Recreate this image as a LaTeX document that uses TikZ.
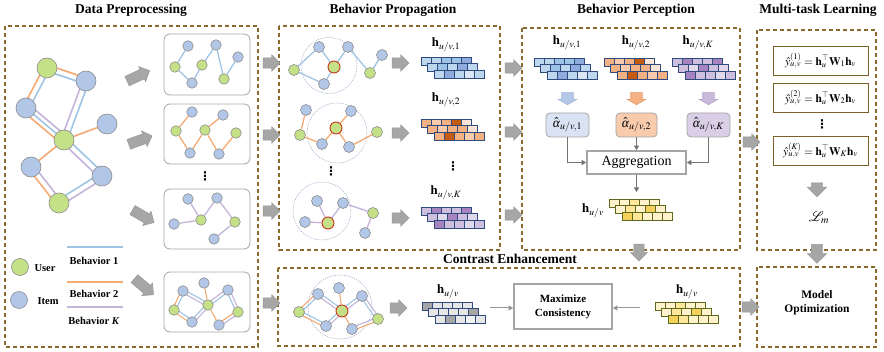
\documentclass[tikz,border=0pt]{standalone}
\usepackage{amsmath,amssymb}
\usepackage{mathptmx}
\usepackage{fontspec}
\setmainfont{Liberation Serif}
\newfontfamily\symfont{DejaVu Sans}
\usetikzlibrary{calc,shapes.arrows,arrows.meta,backgrounds}

% palette
\definecolor{dashbrown}{RGB}{139,105,45}
\definecolor{agray}{RGB}{166,166,166}
\definecolor{agrayd}{RGB}{150,150,150}
\definecolor{eblue}{RGB}{160,196,228}
\definecolor{eorange}{RGB}{245,170,115}
\definecolor{epurple}{RGB}{196,180,218}
\definecolor{ugreen}{RGB}{196,225,135}
\definecolor{iblue}{RGB}{178,198,232}
\definecolor{nborder}{RGB}{140,140,140}
\definecolor{cred}{RGB}{200,55,25}
\definecolor{ring}{RGB}{165,175,205}
\definecolor{boxgray}{RGB}{165,165,165}
\definecolor{navy}{RGB}{47,75,125}
\definecolor{olive}{RGB}{95,105,30}
\definecolor{fbrown}{RGB}{125,95,40}
\definecolor{flowgray}{RGB}{115,115,115}
% embedding cells
\definecolor{sb1}{HTML}{BDD7EE}\definecolor{sb2}{HTML}{9DC3E6}
\definecolor{sb3}{HTML}{8FAADC}\definecolor{sb4}{HTML}{DAE6F4}
\definecolor{so1}{HTML}{F4B183}\definecolor{so2}{HTML}{F8CBAD}
\definecolor{so3}{HTML}{C55A11}\definecolor{so4}{HTML}{FBE5D6}
\definecolor{sp1}{HTML}{CDBFDD}\definecolor{sp2}{HTML}{A584BF}
\definecolor{sp3}{HTML}{E2D8EC}
\definecolor{sy1}{HTML}{FFF2CC}\definecolor{sy2}{HTML}{FFE699}
\definecolor{sy3}{HTML}{F5D05A}
\definecolor{sg1}{HTML}{E7E6E6}\definecolor{sg2}{HTML}{A6A6A6}
\definecolor{sg3}{HTML}{F2F2F2}
% weight boxes and arrows
\definecolor{al1}{HTML}{DAE3F3}\definecolor{al2}{HTML}{F8CBAD}
\definecolor{al3}{HTML}{D9CFE6}
\definecolor{arBf}{HTML}{B4C7E7}\definecolor{arBd}{HTML}{9DB3DB}
\definecolor{arOf}{HTML}{F4B183}\definecolor{arOd}{HTML}{E59A66}
\definecolor{arPf}{HTML}{CBB9DC}\definecolor{arPd}{HTML}{B3A1C9}

% italic alpha taken from the text font
\newcommand\alphit{\text{\itshape α}}

% edge shifted to the left / right of the direction A -> B
\newcommand\sideA[4]{\draw[#1] ($(#2)!#4!90:(#3)$) -- ($(#3)!#4!-90:(#2)$);}
\newcommand\sideB[4]{\draw[#1] ($(#2)!#4!-90:(#3)$) -- ($(#3)!#4!90:(#2)$);}

% three staggered rows of five cells
\newcommand\embstack[4]{%
  \foreach \cells [count=\r from 0] in {#4} {
    \foreach \c [count=\i from 0] in \cells {
      \draw[fill=\c, draw=#3, line width=0.6pt]
        (#1+\r*6.5+\i*10, #2+\r*6.5) rectangle ++(10,8);
    }
  }%
}

\tikzset{
  frame/.style={draw=dashbrown, line width=1.1pt, dash pattern=on 4pt off 3pt},
  title/.style={font=\bfseries\fontsize{13.5}{15}\selectfont},
  usr/.style={circle, draw=nborder, fill=ugreen, line width=0.6pt, inner sep=0pt, minimum size=#1},
  usr/.default=11pt,
  itm/.style={circle, draw=nborder, fill=iblue, line width=0.6pt, inner sep=0pt, minimum size=#1},
  itm/.default=11pt,
  ctr/.style={circle, draw=cred, fill=ugreen, line width=0.9pt, inner sep=0pt, minimum size=12pt},
  eb/.style={draw=eblue, line width=#1}, eb/.default=1.3pt,
  eo/.style={draw=eorange, line width=#1}, eo/.default=1.3pt,
  ep/.style={draw=epurple, line width=#1}, ep/.default=1.3pt,
  ringc/.style={draw=ring, line width=0.5pt, dash pattern=on 1.5pt off 1pt},
  subbox/.style={draw=boxgray, line width=0.8pt, rounded corners=6pt},
  % block arrows: shaft width = text height + text depth
  garrow/.style={single arrow, fill=agray, draw=agrayd, line width=0.4pt, inner sep=0pt,
    text height=5pt, text depth=5pt, minimum height=#1,
    single arrow head extend=3.2pt},
  garrow/.default=17pt,
  wide/.style={text height=5.5pt, text depth=5.5pt, single arrow head extend=4pt},
  carrow/.style={single arrow, inner sep=0pt, line width=0.6pt, rotate=-90,
    text height=5.5pt, text depth=5.5pt, minimum height=12pt,
    single arrow head extend=3.5pt, single arrow tip angle=120},
  legtext/.style={font=\bfseries\fontsize{10.5}{12}\selectfont},
  hl/.style={font=\fontsize{13}{15}\selectfont},
  albox/.style={draw=boxgray, line width=0.8pt, rounded corners=4pt, minimum width=43pt,
    minimum height=24pt, font=\fontsize{13.5}{15}\selectfont},
  thickbox/.style={draw=boxgray, line width=1.6pt, fill=white},
  fbox/.style={draw=fbrown, line width=0.9pt, minimum width=95pt, minimum height=29pt,
    font=\fontsize{11.5}{13}\selectfont},
  flow/.style={draw=flowgray, line width=1.2pt, -{Triangle[length=4.5pt,width=5pt]}},
  flowl/.style={draw=agrayd, line width=1pt, -{Triangle[length=4.5pt,width=5pt]}},
  dotsn/.style={font=\symfont\bfseries\fontsize{12}{12}\selectfont},
}

\begin{document}
\begin{tikzpicture}[x=1pt, y=-1pt]
\useasboundingbox (0,0) rectangle (884,352);
\begin{pgfonlayer}{background}
  \fill[white] (0,0) rectangle (884,352);
\end{pgfonlayer}

% ---------------- titles
\node[title] (tDP) at (131,10) {Data Preprocessing};
\node[title] (tBP) at (393,10) {Behavior Propagation};
\node[title] (tBC) at (636,10) {Behavior Perception};
\node[title] (tML) at (818,10) {Multi-task Learning};
\node[title] (tCE) at (510,259) {Contrast Enhancement};

% ---------------- dashed stage frames
\draw[frame] (5,26) rectangle (258,347);
\draw[frame] (279,26) rectangle (500,250);
\draw[frame] (522,28) rectangle (740,250);
\draw[frame] (757,30) rectangle (876,250);
\draw[frame] (757,267) rectangle (876,347);
\draw[frame] (278,268) rectangle (740,346);

% ---------------- full multi-behaviour graph
\node[usr=20pt] (U1) at (47,68) {};
\node[itm=20pt] (I1) at (86,81) {};
\node[itm=20pt] (I2) at (26,108) {};
\node[itm=20pt] (I3) at (107,124) {};
\node[usr=20pt] (U2) at (64,140) {};
\node[itm=20pt] (I4) at (31,167) {};
\node[itm=20pt] (I5) at (102,176) {};
\node[usr=20pt] (U3) at (59,203) {};
\begin{pgfonlayer}{background}
  \sideA{eo=1.6pt}{U1}{I1}{3pt}   \sideB{eb=1.6pt}{U1}{I1}{3pt}
  \sideA{eb=1.6pt}{U1}{I2}{3pt}   \sideB{eo=1.6pt}{U1}{I2}{3pt}
  \sideA{eb=1.6pt}{I1}{U2}{3pt}   \sideB{ep=1.6pt}{I1}{U2}{3pt}
  \sideA{ep=1.6pt}{I2}{U2}{4.5pt} \draw[eb=1.6pt] (I2) -- (U2); \sideB{eo=1.6pt}{I2}{U2}{4.5pt}
  \draw[eo=1.6pt] (U2) -- (I3);
  \draw[eo=1.6pt] (U2) -- (I4);
  \sideA{eb=1.6pt}{U2}{I5}{3pt}   \sideB{ep=1.6pt}{U2}{I5}{3pt}
  \sideA{ep=1.6pt}{I4}{U3}{3pt}   \sideB{eo=1.6pt}{I4}{U3}{3pt}
  \sideA{eb=1.6pt}{U3}{I5}{3pt}   \sideB{ep=1.6pt}{U3}{I5}{3pt}
\end{pgfonlayer}

% ---------------- legend
\node[usr=17pt] (lu) at (20,267) {};
\node[itm=17pt] (li) at (19,300) {};
\node[legtext, anchor=west] (lut) at (31,268) {User};
\node[legtext, anchor=west] (lit) at (34,301) {Item};
\draw[eb=2pt] (67,247) -- (123,247);
\draw[eo=2pt] (67,282) -- (123,282);
\draw[ep=2pt] (67,307) -- (123,307);
\node[legtext] (lb1) at (94,261) {Behavior 1};
\node[legtext] (lb2) at (94,294) {Behavior 2};
\node[legtext] (lbk) at (94,321) {Behavior \textit{K}};

% ---------------- split arrows
\node[garrow=25pt, rotate=25] (da1) at (136,77) {};
\node[garrow=25pt, rotate=20] (da2) at (138,141) {};
\node[garrow=25pt, rotate=-30] (da3) at (141,215) {};
\node[garrow=25pt, rotate=-40] (da4) at (142,285) {};

% ---------------- per-behaviour subgraphs
\draw[subbox] (164,34) rectangle (250,95);
\draw[subbox] (164,104) rectangle (250,164);
\draw[subbox] (164,189) rectangle (250,249);
\draw[subbox] (164,272) rectangle (250,332);
\node[dotsn] (sdots) at (205,176) {⋮};

% behaviour 1
\node[itm=10.5pt] (a1) at (188,46) {};
\node[itm=10.5pt] (a2) at (216,45) {};
\node[itm=10.5pt] (a3) at (238,57) {};
\node[usr=10.5pt] (a4) at (175,67) {};
\node[usr=10.5pt] (a5) at (202,65) {};
\node[itm=10.5pt] (a6) at (192,83) {};
\node[usr=10.5pt] (a7) at (224,79) {};
% behaviour 2
\node[usr=10.5pt] (b1) at (176,131) {};
\node[itm=10.5pt] (b2) at (192,112) {};
\node[itm=10.5pt] (b3) at (190,153) {};
\node[usr=10.5pt] (b4) at (205,130) {};
\node[itm=10.5pt] (b5) at (223,115) {};
\node[itm=10.5pt] (b6) at (219,154) {};
\node[usr=10.5pt] (b7) at (236,133) {};
% behaviour K
\node[itm=10.5pt] (c1) at (188,199) {};
\node[itm=10.5pt] (c2) at (217,198) {};
\node[itm=10.5pt] (c3) at (174,224) {};
\node[usr=10.5pt] (c4) at (201,220) {};
\node[usr=10.5pt] (c5) at (235,222) {};
\node[itm=10.5pt] (c6) at (214,239) {};
% merged
\node[itm=10.5pt] (d1) at (183,291) {};
\node[itm=10.5pt] (d2) at (204,283) {};
\node[itm=10.5pt] (d3) at (228,290) {};
\node[usr=10.5pt] (d4) at (174,310) {};
\node[usr=10.5pt] (d5) at (208,305) {};
\node[usr=10.5pt] (d6) at (238,312) {};
\node[itm=10.5pt] (d7) at (192,322) {};
\node[itm=10.5pt] (d8) at (219,325) {};
\begin{pgfonlayer}{background}
  \draw[eb] (a4) -- (a1); \draw[eb] (a4) -- (a6); \draw[eb] (a6) -- (a5);
  \draw[eb] (a5) -- (a2); \draw[eb] (a2) -- (a7); \draw[eb] (a7) -- (a3);
  \draw[eo] (b1) -- (b2); \draw[eo] (b1) -- (b3); \draw[eo] (b3) -- (b4);
  \draw[eo] (b4) -- (b5); \draw[eo] (b4) -- (b6); \draw[eo] (b6) -- (b7);
  \draw[ep] (c3) -- (c4); \draw[ep] (c4) -- (c1); \draw[ep] (c4) -- (c2);
  \draw[ep] (c2) -- (c5); \draw[ep] (c5) -- (c6);
  \sideA{eo=1.1pt}{d4}{d1}{1.6pt} \sideB{eb=1.1pt}{d4}{d1}{1.6pt}
  \sideA{eb=1.1pt}{d4}{d7}{1.6pt} \sideB{eo=1.1pt}{d4}{d7}{1.6pt}
  \sideA{eb=1.1pt}{d1}{d5}{1.6pt} \sideB{ep=1.1pt}{d1}{d5}{1.6pt}
  \draw[eo=1.1pt] (d2) -- (d5);
  \sideA{ep=1.1pt}{d5}{d3}{1.6pt} \sideB{eb=1.1pt}{d5}{d3}{1.6pt}
  \sideA{ep=1.1pt}{d5}{d7}{1.6pt} \sideB{eb=1.1pt}{d5}{d7}{1.6pt}
  \sideA{ep=1.1pt}{d3}{d6}{1.6pt} \sideB{eb=1.1pt}{d3}{d6}{1.6pt}
  \sideA{ep=1.1pt}{d6}{d8}{1.6pt} \sideB{eo=1.1pt}{d6}{d8}{1.6pt}
  \draw[eo=1.1pt] (d5) -- (d8);
\end{pgfonlayer}

% ---------------- arrows into propagation / contrast
\node[garrow] (pa1) at (269,63) {};
\node[garrow] (pa2) at (269,135) {};
\node[garrow] (pa3) at (269,211) {};
\node[garrow] (pa4) at (269,303) {};

% ---------------- behaviour propagation graphs
\node[itm] (p1a) at (319,47) {};
\node[itm] (p1b) at (348,47) {};
\node[itm] (p1c) at (382,55) {};
\node[usr] (p1d) at (294,70) {};
\node[ctr] (p1x) at (334,67) {};
\node[usr] (p1e) at (370,73) {};
\node[itm] (p1f) at (324,84) {};

\node[itm] (p2a) at (306,110) {};
\node[itm] (p2b) at (351,111) {};
\node[usr] (p2d) at (300,135) {};
\node[ctr] (p2x) at (336,128) {};
\node[usr] (p2e) at (377,132) {};
\node[itm] (p2f) at (322,144) {};
\node[itm] (p2g) at (349,147) {};

\node[itm] (p3a) at (317,201) {};
\node[itm] (p3b) at (343,203) {};
\node[itm] (p3c) at (305,222) {};
\node[ctr] (p3x) at (328,223) {};
\node[usr] (p3e) at (373,213) {};
\node[itm] (p3f) at (365,233) {};
\node[dotsn] (pdots) at (331,171) {⋮};

\begin{pgfonlayer}{background}
  \draw[ringc] (329,65.5) circle (28);
  \draw[ringc] (337,133) circle (30);
  \draw[ringc] (322,211) circle (29);
  \draw[eb] (p1d) -- (p1a); \draw[eb] (p1a) -- (p1x); \draw[eb] (p1x) -- (p1b);
  \draw[eb] (p1b) -- (p1e); \draw[eb] (p1e) -- (p1c); \draw[eb] (p1d) -- (p1f);
  \draw[eb] (p1f) -- (p1x);
  \draw[eo] (p2a) -- (p2d); \draw[eo] (p2d) -- (p2f); \draw[eo] (p2f) -- (p2x);
  \draw[eo] (p2x) -- (p2b); \draw[eo] (p2x) -- (p2g); \draw[eo] (p2g) -- (p2e);
  \draw[ep] (p3a) -- (p3x); \draw[ep] (p3b) -- (p3x); \draw[ep] (p3c) -- (p3x);
  \draw[ep] (p3b) -- (p3e); \draw[ep] (p3e) -- (p3f);
\end{pgfonlayer}

\node[garrow] (qa1) at (398,63) {};
\node[garrow] (qa2) at (398,133) {};
\node[garrow] (qa3) at (398,218) {};

% behaviour-specific embeddings
\node[hl] (hp1) at (446,45) {$\mathbf{h}_{u/v,1}$};
\embstack{421}{57}{navy}{{sb1,sb1,sb2,sb2,sb3},{sb1,sb2,sb1,sb3,sb1},{sb1,sb3,sb1,sb4,sb1}}
\node[hl] (hp2) at (446,100) {$\mathbf{h}_{u/v,2}$};
\embstack{421}{119}{navy}{{so1,so2,so1,so3,so4},{so1,so2,so1,so1,so4},{so1,so3,so1,so2,so1}}
\node[dotsn] (hdots) at (453,166) {⋮};
\node[hl] (hp3) at (446,193) {$\mathbf{h}_{u/v,K}$};
\embstack{421}{207}{navy}{{sp1,sp2,sp1,sp1,sp2},{sp1,sp3,sp2,sp1,sp3},{sp2,sp1,sp1,sp3,sp1}}

% ---------------- arrows into perception
\node[garrow] (ra1) at (511,68) {};
\node[garrow] (ra2) at (511,132) {};
\node[garrow] (ra3) at (511,215) {};

% ---------------- behaviour perception
\node[hl] (hc1) at (567,43) {$\mathbf{h}_{u/v,1}$};
\node[hl] (hc2) at (636,43) {$\mathbf{h}_{u/v,2}$};
\node[hl] (hc3) at (698,43) {$\mathbf{h}_{u/v,K}$};
\embstack{534}{58}{navy}{{sb1,sb1,sb2,sb2,sb3},{sb1,sb2,sb1,sb3,sb1},{sb1,sb3,sb1,sb4,sb1}}
\embstack{604}{58}{navy}{{so1,so2,so1,so3,so4},{so1,so2,so1,so1,so4},{so1,so3,so1,so2,so1}}
\embstack{672}{58}{navy}{{sp1,sp2,sp1,sp1,sp2},{sp1,sp3,sp2,sp1,sp3},{sp2,sp1,sp1,sp3,sp1}}

\node[carrow, fill=arBf, draw=arBd] (ca1) at (567.5,97) {};
\node[carrow, fill=arOf, draw=arOd] (ca2) at (636.5,97) {};
\node[carrow, fill=arPf, draw=arPd] (ca3) at (708.5,97) {};

\node[albox, fill=al1] (al1) at (567.5,125) {$\hat{\alphit}_{u/v,1}$};
\node[albox, fill=al2, minimum width=41pt] (al2) at (636.5,125) {$\hat{\alphit}_{u/v,2}$};
\node[albox, fill=al3] (al3) at (708.5,125) {$\hat{\alphit}_{u/v,K}$};

\node[thickbox, minimum width=99pt, minimum height=23pt,
  font=\fontsize{14}{16}\selectfont] (agg) at (636.5,162.5) {Aggregation};
\draw[flow] (al1.south) |- (agg.west);
\draw[flow] (al2.south) -- (agg.north);
\draw[flow] (al3.south) |- (agg.east);
\coordinate (aggout) at (636.5,192);
\draw[flow] (agg.south) -- (aggout);

\node[hl] (hagg) at (593,211) {$\mathbf{h}_{u/v}$};
\embstack{609}{199}{olive}{{sy1,sy1,sy2,sy1,sy1},{sy1,sy2,sy1,sy3,sy1},{sy3,sy2,sy1,sy1,sy1}}

\node[garrow, rotate=-90] (sa1) at (639,250) {};
\node[garrow] (sa2) at (749,142) {};

% ---------------- multi-task learning
\node[fbox] (f1) at (820.5,60.5)
  {$\hat{y}^{(1)}_{u,v}=\mathbf{h}_u^{\top}\mathbf{W}_1\mathbf{h}_v$};
\node[fbox] (f2) at (820.5,97.5)
  {$\hat{y}^{(2)}_{u,v}=\mathbf{h}_u^{\top}\mathbf{W}_2\mathbf{h}_v$};
\node[dotsn] (fdots) at (822,124) {⋮};
\node[fbox] (f3) at (820.5,150.5)
  {$\hat{y}^{(K)}_{u,v}=\mathbf{h}_u^{\top}\mathbf{W}_K\mathbf{h}_v$};
\node[garrow=14pt, wide, rotate=-90] (ma1) at (817,187) {};
\node[font=\fontsize{14}{16}\selectfont] (lm) at (819,218) {$\mathcal{L}_m$};
\node[garrow=19pt, wide, rotate=-90] (ma2) at (817,251) {};

% ---------------- model optimization
\node[font=\bfseries\fontsize{11.5}{14}\selectfont, align=center] (mo) at (817,303)
  {Model\\Optimization};
\node[garrow] (oa1) at (748,307) {};

% ---------------- contrast enhancement
\node[itm] (ga) at (318,294) {};
\node[itm] (gb) at (339,288) {};
\node[itm] (gc) at (362,296) {};
\node[usr] (gd) at (299,312) {};
\node[ctr] (gx) at (342,311) {};
\node[usr] (ge) at (378,319) {};
\node[itm] (gf) at (326,326) {};
\node[itm] (gg) at (352,329) {};
\begin{pgfonlayer}{background}
  \draw[ringc] (340,307) circle (32);
  \sideA{eo=1.1pt}{gd}{ga}{1.6pt} \sideB{eb=1.1pt}{gd}{ga}{1.6pt}
  \sideA{eb=1.1pt}{ga}{gx}{1.6pt} \sideB{ep=1.1pt}{ga}{gx}{1.6pt}
  \draw[eo=1.1pt] (gb) -- (gx);
  \sideA{eb=1.1pt}{gx}{gc}{1.6pt} \sideB{ep=1.1pt}{gx}{gc}{1.6pt}
  \sideA{ep=1.1pt}{gc}{ge}{1.6pt} \sideB{eb=1.1pt}{gc}{ge}{1.6pt}
  \sideA{ep=1.1pt}{gx}{gf}{1.6pt} \sideB{eb=1.1pt}{gx}{gf}{1.6pt}
  \sideA{eb=1.1pt}{gd}{gf}{1.6pt} \sideB{eo=1.1pt}{gd}{gf}{1.6pt}
  \draw[eo=1.1pt] (gx) -- (gg);
  \sideA{ep=1.1pt}{gg}{ge}{1.6pt} \sideB{eo=1.1pt}{gg}{ge}{1.6pt}
\end{pgfonlayer}
\node[garrow] (ea1) at (396,308) {};

\node[hl] (hg) at (448,292) {$\mathbf{h}_{u/v}$};
\embstack{422}{302}{navy}{{sg2,sg1,sg1,sg1,sg1},{sg1,sg1,sg1,sg1,sg2},{sg1,sg2,sg1,sg3,sg1}}
\node[hl] (hy) at (687,292) {$\mathbf{h}_{u/v}$};
\embstack{655}{302}{olive}{{sy1,sy1,sy2,sy1,sy1},{sy1,sy2,sy1,sy3,sy1},{sy3,sy2,sy1,sy1,sy1}}

\node[thickbox, minimum width=98pt, minimum height=45pt, align=center,
  font=\bfseries\fontsize{11}{14}\selectfont] (max) at (563,306.5) {Maximize\\Consistency};
\coordinate (gsrc) at (490,308);
\coordinate (ysrc) at (640,308);
\draw[flowl] (gsrc) -- (max.west |- gsrc);
\draw[flowl] (ysrc) -- (max.east |- ysrc);
\end{tikzpicture}
\end{document}
